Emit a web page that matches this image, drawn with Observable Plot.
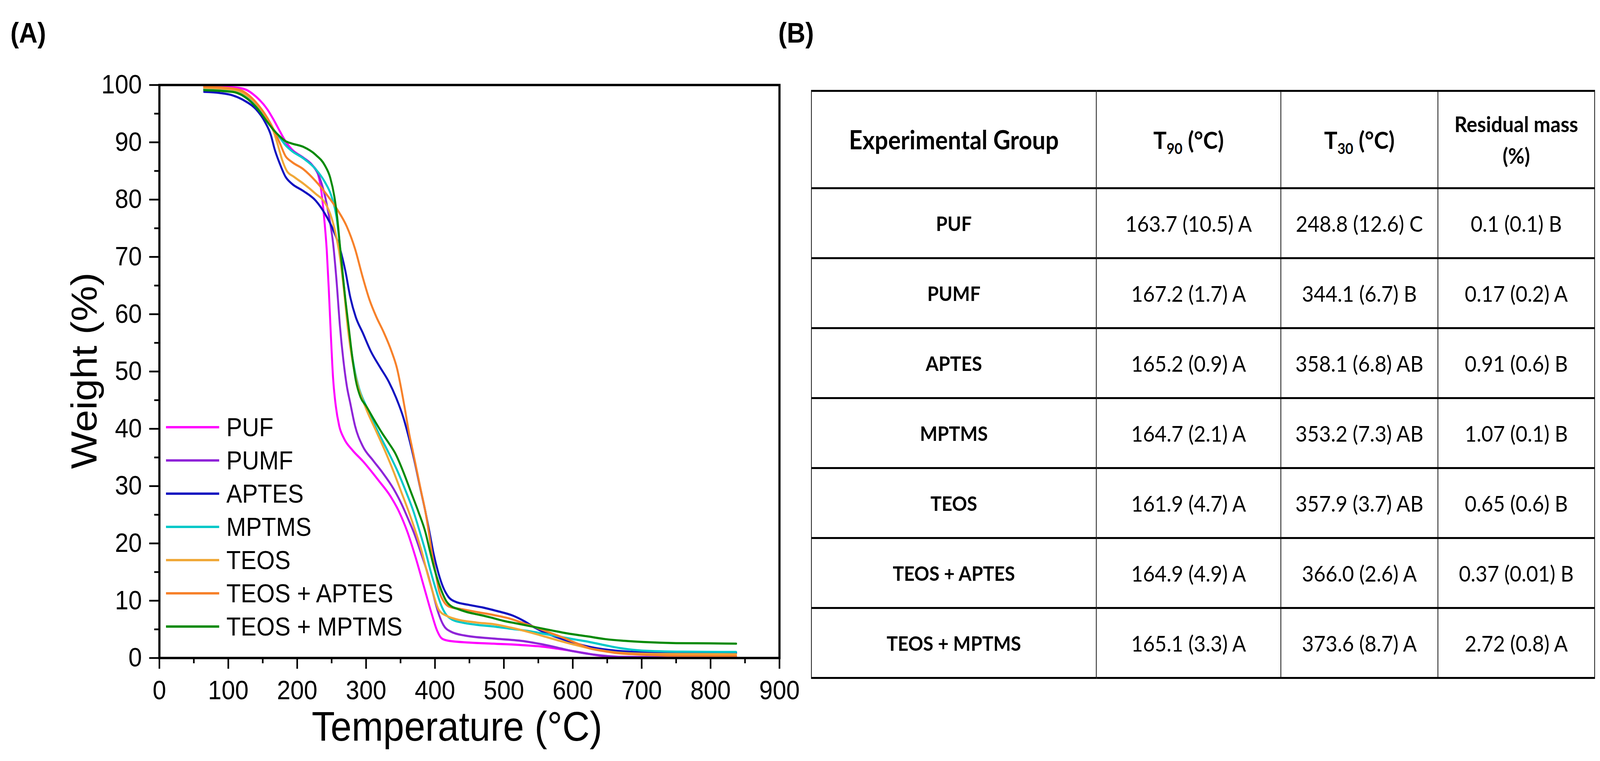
<!DOCTYPE html>
<html>
<head>
<meta charset="utf-8">
<script src="https://cdn.jsdelivr.net/npm/d3@7"></script>
<script src="https://cdn.jsdelivr.net/npm/@observablehq/plot@0.6"></script>
<style>
html, body { margin: 0; padding: 0; background: #fff; overflow: hidden; }
#page { position: absolute; left: 0; top: 0; width: 4482px; height: 1947px; overflow: hidden; background: #fff; transform-origin: 0 0; }
#chart { position: absolute; left: 0; top: 0; }
.panel { position: absolute; font-family: "Liberation Sans", Arial, sans-serif; font-weight: bold; font-size: 72px; line-height: 1; }
.lg { position: absolute; display: flex; align-items: center; height: 80px; font-family: "Liberation Sans", Arial, sans-serif; font-size: 66px; white-space: nowrap; color: #000; }
.lg .sw { width: 149px; height: 0; border-top: 6px solid; margin-right: 20px; }
table { position: absolute; left: 2272px; top: 230px; width: 2194px; border-collapse: collapse; table-layout: fixed; font-family: Lato, "Open Sans", sans-serif; color: #000; }
td, th { border-left: 2.5px solid #000; border-right: 2.5px solid #000; border-top: 5px solid #000; border-bottom: 5px solid #000; text-align: center; vertical-align: middle; padding: 0; }
th { font-weight: bold; font-size: 66px; height: 244px; line-height: 1.3; }
th.t { font-size: 62px; }
th.r { font-size: 56px; line-height: 1.45; }
td { font-size: 57px; height: 174px; }
td.g { font-weight: bold; font-size: 52px; }
sub { font-size: 0.62em; vertical-align: -0.35em; line-height: 0; }
</style>
</head>
<body>
<div id="page">
  <div id="chart"></div>
  <div class="panel" style="left:29px; top:48px;">(A)</div>
  <div class="panel" style="left:2180px; top:48px;">(B)</div>
  <div id="legend"></div>
  <table id="tbl"></table>
</div>
<script>
// ---------- data ----------
const seriesNames = ["PUF", "PUMF", "APTES", "MPTMS", "TEOS", "TEOS + APTES", "TEOS + MPTMS"];
const seriesColors = ["#ff00ff", "#8f24d8", "#1010c0", "#00c8c8", "#f0a838", "#f7812a", "#058a05"];

const PUF = [[65,99.7],[90,99.7],[106,99.6],[123,99.3],[140,98.0],[157,95.7],[166,93.9],[175,91.9],[183,90.2],[192,88.8],[209,87.3],[222,86.0],[230,84.5],[235,81.5],[239,77],[243,71],[246,64],[249,56],[252,49],[256,44],[261,40.5],[268,38.3],[280,36.3],[295,34.4],[318,31],[335,28.3],[348,25.5],[360,22],[372,17.5],[385,12],[395,7.8],[403,4.8],[410,3.4],[420,3.0],[450,2.7],[485,2.5],[520,2.3],[555,2.0],[585,1.5],[615,0.9],[640,0.4],[670,0.15],[750,0.1],[837,0.1]];
const PUMF = [[65,99.3],[106,99.0],[123,98.3],[140,96.6],[157,93.8],[166,92.2],[175,90.8],[183,89.6],[192,88.6],[209,87.3],[222,86.0],[232,84.0],[240,80.8],[246,77.2],[252,72.5],[257,66],[262,58],[267,52],[272,47.5],[277,44.5],[284,40.5],[295,37],[310,34.5],[323,32.5],[340,29.5],[351,27],[362,24],[369,22],[380,18.2],[388,15.3],[396,11.8],[404,8.2],[412,5.8],[423,4.6],[444,3.9],[485,3.4],[531,2.9],[555,2.4],[578,1.8],[600,1.2],[624,0.7],[650,0.35],[670,0.2],[750,0.15],[837,0.15]];
const APTES = [[65,98.8],[88,98.6],[106,98.2],[123,97.3],[140,95.8],[153,93.6],[162,91.2],[167,88.9],[175,86.2],[183,84.0],[192,82.8],[209,81.5],[227,79.8],[240,77.6],[252,74.8],[262,71.5],[270,67.5],[277,63],[285,59.5],[295,56.8],[307,53.5],[320,50.8],[333,48.2],[345,45],[354,42],[362,38.5],[370,34.5],[378,30],[386,25.6],[392,22],[398,18.2],[405,14.8],[412,12.3],[420,10.6],[430,9.8],[448,9.3],[470,8.8],[490,8.2],[513,7.4],[530,6.4],[545,5.3],[560,4.4],[575,3.7],[595,2.9],[615,2.2],[640,1.6],[665,1.25],[700,1.0],[760,0.9],[837,0.9]];
const MPTMS = [[65,99.2],[106,98.9],[123,98.2],[140,96.5],[157,93.7],[166,92.1],[175,90.8],[183,89.5],[192,88.5],[209,87.2],[227,85.3],[240,83.1],[250,80.5],[257,77],[262,72],[267,66],[272,60],[277,55],[283,50.5],[290,47],[300,44],[318,39.3],[332,36],[346,32.5],[358,29],[369,25.5],[378,22],[386,18.7],[394,15],[402,11.7],[409,9.2],[416,7.6],[425,6.7],[439,6.2],[460,5.8],[485,5.5],[510,5.1],[531,4.8],[555,4.3],[578,3.8],[600,3.3],[624,2.8],[648,2.2],[670,1.7],[700,1.3],[760,1.1],[837,1.05]];
const TEOS = [[65,99.5],[106,99.2],[123,98.5],[140,96.8],[157,94.0],[166,91.8],[172,89.5],[178,87],[185,85],[195,84],[209,82.8],[227,81.0],[240,79.5],[248,77.5],[255,74.5],[262,70],[268,64],[274,57],[280,52],[287,48],[300,43.5],[315,39.5],[328,36],[340,32.5],[351,29],[362,25.5],[372,22],[381,18.5],[388,15.2],[396,11.8],[406,8.3],[418,7.3],[430,6.8],[460,6.2],[485,5.9],[510,5.3],[531,4.7],[555,3.9],[578,3.1],[600,2.4],[624,1.7],[648,1.2],[670,0.9],[720,0.7],[837,0.65]];
const TEOS_APTES = [[65,99.7],[106,99.4],[123,98.8],[140,97.0],[157,94.2],[166,92.2],[175,89.8],[183,87.6],[192,86.6],[209,85.3],[227,83.2],[244,80.7],[258,78.3],[272,75.3],[284,71.4],[295,66.5],[305,62.5],[315,59.5],[325,57],[337,53.5],[345,50.5],[351,47],[357,43],[362,39.5],[368,36],[374,32.5],[380,29],[386,25.6],[391,22],[395,18.7],[401,14.8],[406,11.7],[412,10],[420,9.0],[440,8.5],[462,8.0],[485,7.5],[508,6.9],[530,6.0],[545,5.4],[565,4.5],[587,3.5],[605,2.6],[624,1.7],[645,1.2],[661,0.9],[700,0.6],[760,0.4],[837,0.37]];
const TEOS_MPTMS = [[65,99.1],[106,98.8],[123,98.0],[140,96.2],[157,93.5],[166,92.1],[175,91.0],[183,90.2],[192,89.8],[209,89.2],[227,87.8],[240,86],[248,83.8],[254,80.5],[258,77],[262,72],[266,67],[270,62.5],[275,57.5],[280,52.5],[285,48.5],[292,45.5],[300,44],[312,41.5],[323,39.3],[333,37.5],[342,35.8],[354,32.5],[365,29],[376,25.5],[386,22],[393,18.5],[400,15.2],[408,12.2],[416,10],[424,9.0],[432,8.6],[447,8.0],[462,7.6],[480,7.1],[499,6.5],[520,6.0],[545,5.4],[570,4.8],[592,4.3],[620,3.8],[647,3.3],[675,3.0],[702,2.8],[750,2.6],[800,2.55],[837,2.5]];
const seriesData = [PUF, PUMF, APTES, MPTMS, TEOS, TEOS_APTES, TEOS_MPTMS];

const xTicks = [0, 100, 200, 300, 400, 500, 600, 700, 800, 900];
const xMinorTicks = [50, 150, 250, 350, 450, 550, 650, 750, 850];
const yTicks = [0, 10, 20, 30, 40, 50, 60, 70, 80, 90, 100];
const yMinorTicks = [5, 15, 25, 35, 45, 55, 65, 75, 85, 95];
const xTitle = "Temperature (°C)";
const yTitle = "Weight (%)";

// table (B)
const tableGroups = ["PUF", "PUMF", "APTES", "MPTMS", "TEOS", "TEOS + APTES", "TEOS + MPTMS"];
const tableT90 = ["163.7 (10.5) A", "167.2 (1.7) A", "165.2 (0.9) A", "164.7 (2.1) A", "161.9 (4.7) A", "164.9 (4.9) A", "165.1 (3.3) A"];
const tableT30 = ["248.8 (12.6) C", "344.1 (6.7) B", "358.1 (6.8) AB", "353.2 (7.3) AB", "357.9 (3.7) AB", "366.0 (2.6) A", "373.6 (8.7) A"];
const tableResidual = ["0.1 (0.1) B", "0.17 (0.2) A", "0.91 (0.6) B", "1.07 (0.1) B", "0.65 (0.6) B", "0.37 (0.01) B", "2.72 (0.8) A"];
const tableHeaders = ["Experimental Group", "T<sub>90</sub> (°C)", "T<sub>30</sub> (°C)", "Residual mass<br>(%)"];
const tableHeaderClass = ["", "t", "t", "r"];
const tableColWidths = [798, 517, 440, 439];

// ---------- fit the 4482x1947 layout onto the actual viewport ----------
const page = document.getElementById("page");
const sx = window.innerWidth / 4482;
const sy = window.innerHeight / 1947;
page.style.transform = `scale(${sx}, ${sy})`;

// ---------- chart ----------
const rows = seriesNames.flatMap((name, i) => seriesData[i].map(([t, w]) => ({name, t, w})));

const chart = Plot.plot({
  width: 2250,
  height: 1947,
  marginLeft: 446,
  marginRight: 67,
  marginTop: 217,
  marginBottom: 264,
  style: {fontFamily: "'Liberation Sans', Arial, sans-serif", background: "transparent", color: "#000", overflow: "visible"},
  x: {domain: [0, 900]},
  y: {domain: [0, 100]},
  color: {domain: seriesNames, range: seriesColors},
  marks: [
    Plot.line(rows, {x: "t", y: "w", z: "name", stroke: "name", strokeWidth: 5.5, curve: "monotone-x"}),
    Plot.frame({stroke: "#000", strokeWidth: 6}),
    Plot.axisX({ticks: xTicks, tickSize: 28, tickPadding: 29, strokeWidth: 4.5, fontSize: 68, label: null, tickFormat: d => String(d)}),
    Plot.axisX({ticks: xMinorTicks, tickSize: 14, text: null, strokeWidth: 4.5, label: null}),
    Plot.axisY({ticks: yTicks, tickSize: 28, tickPadding: 21, strokeWidth: 4.5, fontSize: 68, label: null, tickFormat: d => String(d)}),
    Plot.axisY({ticks: yMinorTicks, tickSize: 14, text: null, strokeWidth: 4.5, label: null}),
    Plot.text([xTitle], {text: d => d, frameAnchor: "bottom", textAnchor: "middle", lineAnchor: "bottom", dy: 211, dx: -35, fontSize: 106, fill: "#000"}),
    Plot.text([yTitle], {text: d => d, frameAnchor: "left", textAnchor: "middle", lineAnchor: "top", rotate: -90, dx: -249, dy: -2, fontSize: 102, fill: "#000"})
  ]
});
document.getElementById("chart").appendChild(chart);

// legend inside plot area
const legend = document.getElementById("legend");
seriesNames.forEach((name, i) => {
  const row = document.createElement("div");
  row.className = "lg";
  row.style.left = "465px";
  row.style.top = (1093 + i * 85 - 40) + "px";
  const sw = document.createElement("div");
  sw.className = "sw";
  sw.style.borderTopColor = seriesColors[i];
  const tx = document.createElement("span");
  tx.textContent = name;
  row.appendChild(sw);
  row.appendChild(tx);
  legend.appendChild(row);
});

// table
const tbl = document.getElementById("tbl");
const cg = document.createElement("colgroup");
tableColWidths.forEach(w => { const c = document.createElement("col"); c.style.width = w + "px"; cg.appendChild(c); });
tbl.appendChild(cg);
const hr = document.createElement("tr");
tableHeaders.forEach((h, j) => { const th = document.createElement("th"); th.innerHTML = h; if (tableHeaderClass[j]) th.className = tableHeaderClass[j]; hr.appendChild(th); });
tbl.appendChild(hr);
tableGroups.forEach((g, i) => {
  const tr = document.createElement("tr");
  [g, tableT90[i], tableT30[i], tableResidual[i]].forEach((v, j) => {
    const td = document.createElement("td");
    td.textContent = v;
    if (j === 0) td.className = "g";
    tr.appendChild(td);
  });
  tbl.appendChild(tr);
});
</script>
</body>
</html>
